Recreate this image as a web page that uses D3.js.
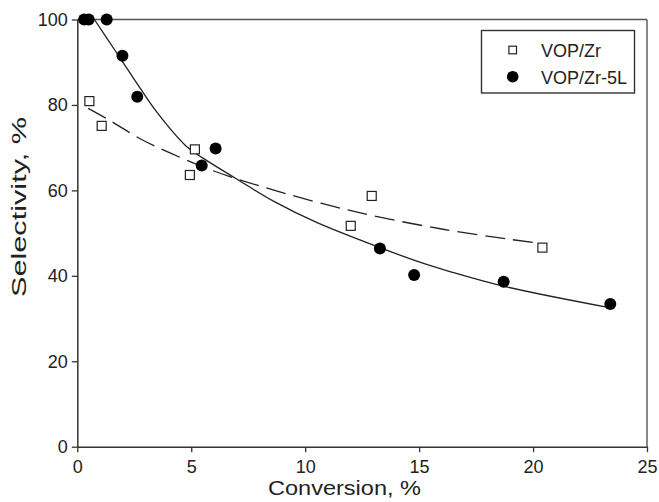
<!DOCTYPE html>
<html>
<head>
<meta charset="utf-8">
<script src="https://cdn.jsdelivr.net/npm/d3@7"></script>
<style>
  html, body { margin: 0; padding: 0; background: #fff; }
  svg { display: block; font-family: Arial, "Liberation Sans", Helvetica, sans-serif; }
</style>
</head>
<body>
<svg id="chart" width="659" height="502"></svg>
<script>
// Measured points: conversion (%) vs selectivity (%)
const vopZrX = [0.53, 1.07, 4.94, 5.16, 12.0, 12.92, 20.41];
const vopZrY = [80.9, 75.1, 63.6, 69.6, 51.7, 58.7, 46.6];

const vopZr5LX = [0.3, 0.5, 1.29, 1.98, 2.63, 5.46, 6.07, 13.28, 14.78, 18.71, 23.39];
const vopZr5LY = [100, 100, 100, 91.5, 81.9, 65.8, 69.8, 46.4, 40.2, 38.6, 33.4];

// Trend curves through each series
const fitZrX = [0.48, 1.51, 2.82, 4.14, 5.75, 8.09, 11.96, 16.05, 20.0];
const fitZrY = [79.2, 76.1, 71.9, 68.6, 65.0, 60.9, 55.3, 50.9, 47.8];

const fitZr5LX = [0.75, 1.65, 2.5, 3.45, 4.77, 5.5, 6.92, 8.67, 10.5, 13.28, 15.03, 16.35, 18.68, 23.3];
const fitZr5LY = [100, 92.8, 86.0, 78.6, 70.4, 67.6, 62.9, 57.3, 52.5, 46.6, 43.2, 41.0, 37.6, 32.6];

const xTicks = [0, 5, 10, 15, 20, 25];
const yTicks = [0, 20, 40, 60, 80, 100];
const seriesNames = ["VOP/Zr", "VOP/Zr-5L"];

const svg = d3.select("#chart");
const m = { left: 77.3, top: 19.5, right: 647, bottom: 446.7 };

const x = d3.scaleLinear().domain([0, 25]).range([m.left, m.right]);
const y = d3.scaleLinear().domain([0, 100]).range([m.bottom, m.top]);

const axisColor = "#333";

// Frame: top and right edges
svg.append("line").attr("x1", m.left).attr("x2", m.right).attr("y1", m.top).attr("y2", m.top)
  .attr("stroke", "#555").attr("stroke-width", 1.4);
svg.append("line").attr("x1", m.right).attr("x2", m.right).attr("y1", m.top).attr("y2", m.bottom)
  .attr("stroke", "#555").attr("stroke-width", 1.4);

// Axes
const xAxis = svg.append("g").attr("transform", `translate(0,${m.bottom})`)
  .call(d3.axisBottom(x).tickValues(xTicks).tickSize(5.5).tickPadding(8).tickSizeOuter(0));
const yAxis = svg.append("g").attr("transform", `translate(${m.left},0)`)
  .call(d3.axisLeft(y).tickValues(yTicks).tickSize(5.5).tickPadding(4).tickSizeOuter(0));

[xAxis, yAxis].forEach(g => {
  g.select(".domain").attr("stroke", axisColor).attr("stroke-width", 1.5);
  g.selectAll(".tick line").attr("stroke", axisColor).attr("stroke-width", 1.3);
  g.selectAll(".tick text").attr("fill", "#222").attr("font-size", 18)
    .attr("font-family", "Arial, 'Liberation Sans', sans-serif");
});

// Axis titles
svg.append("text").attr("x", 344.5).attr("y", 495).attr("text-anchor", "middle")
  .attr("font-size", 20).attr("fill", "#222").attr("textLength", 153)
  .attr("lengthAdjust", "spacingAndGlyphs").text("Conversion, %");
svg.append("text").attr("transform", "translate(26,207) rotate(-90)").attr("text-anchor", "middle")
  .attr("font-size", 20).attr("fill", "#222").attr("textLength", 180)
  .attr("lengthAdjust", "spacingAndGlyphs").text("Selectivity, %");

// Trend curves
const line = d3.line().x(d => x(d[0])).y(d => y(d[1])).curve(d3.curveCatmullRom.alpha(0.5));
svg.append("path").datum(d3.zip(fitZrX, fitZrY)).attr("d", line)
  .attr("fill", "none").attr("stroke", "#222").attr("stroke-width", 1.3)
  .attr("stroke-dasharray", "20,8");
svg.append("path").datum(d3.zip(fitZr5LX, fitZr5LY)).attr("d", line)
  .attr("fill", "none").attr("stroke", "#222").attr("stroke-width", 1.3);

// Open squares: VOP/Zr
const sq = 9;
svg.append("g").selectAll("rect").data(d3.zip(vopZrX, vopZrY)).join("rect")
  .attr("x", d => x(d[0]) - sq / 2).attr("y", d => y(d[1]) - sq / 2)
  .attr("width", sq).attr("height", sq)
  .attr("fill", "#fff").attr("stroke", "#222").attr("stroke-width", 1.2);

// Filled circles: VOP/Zr-5L
svg.append("g").selectAll("circle").data(d3.zip(vopZr5LX, vopZr5LY)).join("circle")
  .attr("cx", d => x(d[0])).attr("cy", d => y(d[1])).attr("r", 6)
  .attr("fill", "#000");

// Legend
const lg = svg.append("g");
lg.append("rect").attr("x", 481.5).attr("y", 30.5).attr("width", 153).attr("height", 62.5)
  .attr("fill", "#fff").attr("stroke", "#333").attr("stroke-width", 1.4);
lg.append("rect").attr("x", 512.7 - 3.8).attr("y", 50 - 3.8).attr("width", 7.6).attr("height", 7.6)
  .attr("fill", "#fff").attr("stroke", "#222").attr("stroke-width", 1.2);
lg.append("circle").attr("cx", 512.7).attr("cy", 76.7).attr("r", 5.8).attr("fill", "#000");
lg.selectAll("text").data(seriesNames).join("text")
  .attr("x", 541).attr("y", (d, i) => [56.5, 83.5][i])
  .attr("font-size", 18).attr("fill", "#222").text(d => d);
</script>
</body>
</html>
